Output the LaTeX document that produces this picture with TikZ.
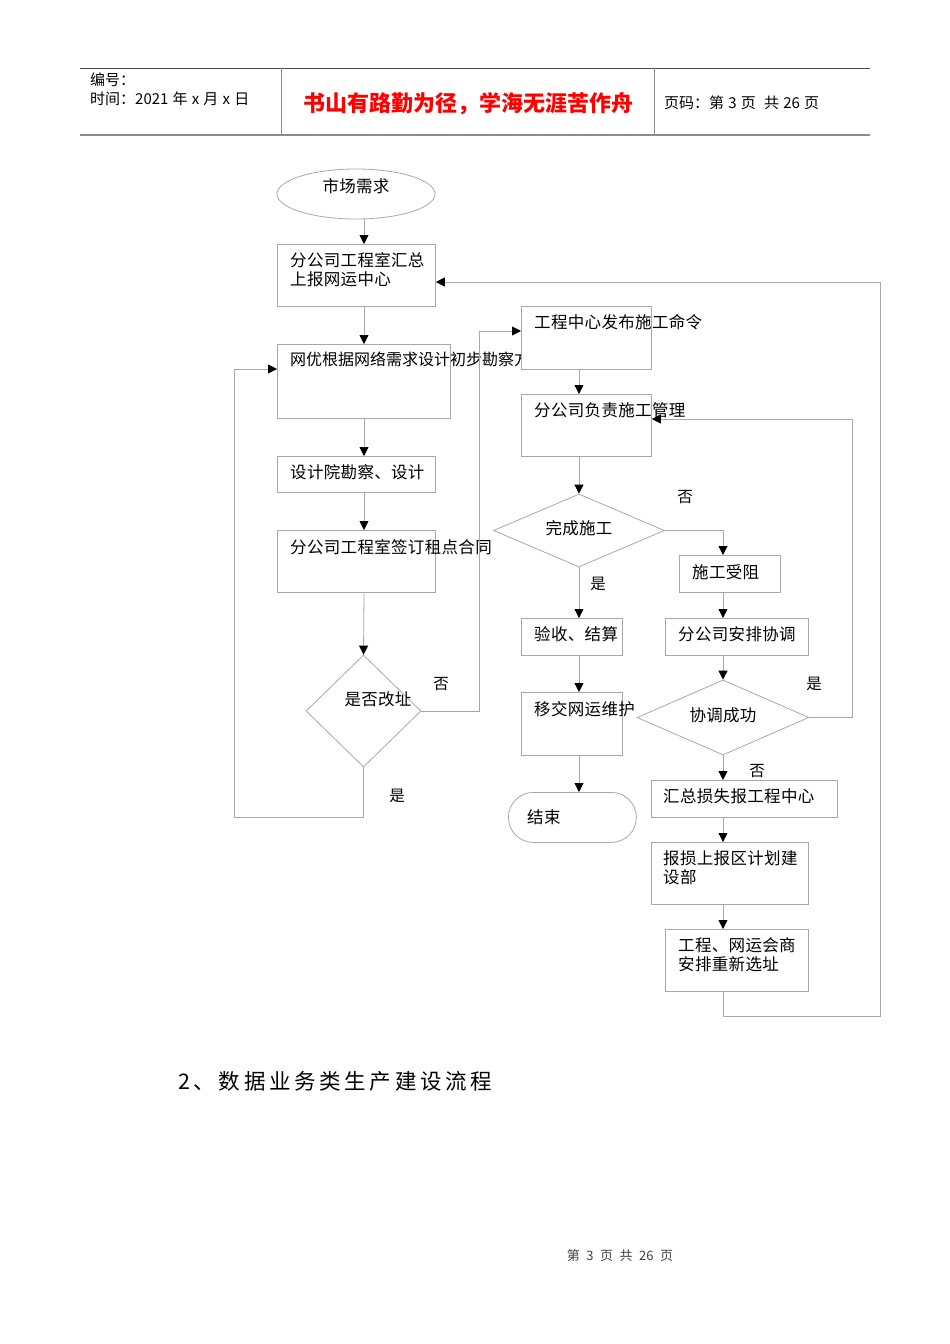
\documentclass[tikz,border=0pt]{standalone}
\usepackage{fontspec}
\setmainfont{Noto Sans CJK SC}
\usetikzlibrary{arrows.meta,shapes.geometric}
\definecolor{linegray}{HTML}{A8A8A8}
\definecolor{headgray}{HTML}{8C8C8C}
\definecolor{mottored}{HTML}{FF0000}
\tikzset{
  stepbox/.style={draw=linegray, line width=0.8pt, fill=white, anchor=north west, inner sep=0pt},
  boxtext/.style={anchor=north west, align=left, inner sep=0pt, xshift=13pt, yshift=-8pt,
    font=\fontsize{16.5}{19}\selectfont\addfontfeatures{LetterSpace=2}},
  decide/.style={diamond, draw=linegray, line width=0.8pt, fill=white, inner sep=0pt},
  decidetext/.style={inner sep=0pt, font=\fontsize{16.5}{19}\selectfont\addfontfeatures{LetterSpace=2}},
  link/.style={draw=linegray, line width=0.8pt, -{Triangle[length=9pt,width=9pt,color=black]}},
  yn/.style={inner sep=0pt, font=\fontsize{15.5}{18}\selectfont},
  headtext/.style={inner sep=0pt, anchor=west, font=\fontsize{15}{18}\selectfont}
}
\begin{document}
\begin{tikzpicture}[x=1pt,y=-1pt]
\useasboundingbox (0,0) rectangle (950,1344);
% page header
\draw[black!70, line width=0.8pt] (80,68) -- (870,68);
\draw[headgray, line width=2pt] (80,135) -- (870,135);
\draw[headgray, line width=0.8pt] (281,68) -- (281,135) (654,68) -- (654,135);
\node[headtext] (num) at (90,80) {编号：};
\node[headtext] (date) at (90,99) {时间：2021\;年\;x\;月\;x\;日};
\node[inner sep=0pt, text=mottored, font=\fontsize{22}{24}\selectfont\bfseries] (motto) at (468,104) {书山有路勤为径，学海无涯苦作舟};
\node[headtext] (pg) at (664,103) {页码：第\;3\;页\;\;共\;26\;页};

% columns for the arrows
\coordinate (colA) at (364,0);
\coordinate (colB) at (579,0);
\coordinate (colC) at (723,0);

% left column
\node[ellipse, draw=linegray, line width=0.8pt, minimum width=158, minimum height=50, inner sep=0pt,
  label={[decidetext, yshift=8pt]center:市场需求}] (mkt) at (356,194) {};
\node[stepbox, minimum width=158, minimum height=62,
  label={[boxtext]north west:{分公司工程室汇总\\上报网运中心}}] (huizong) at (277,244) {};
\node[stepbox, minimum width=173, minimum height=74,
  label={[boxtext, font=\fontsize{16}{19}\selectfont]north west:{网优根据网络需求设计初步勘察方}}] (wangyou) at (277,344) {};
\node[stepbox, minimum width=158, minimum height=36,
  label={[boxtext]north west:{设计院勘察、设计}}] (sjy) at (277,456) {};
\node[stepbox, minimum width=158, minimum height=62,
  label={[boxtext,yshift=-1pt]north west:{分公司工程室签订租点合同}}] (qianding) at (277,530) {};
\node[decide, minimum width=115, minimum height=112,
  label={[decidetext, xshift=14.5pt, yshift=12pt]center:是否改址}] (gaizhi) at (363.5,711) {};

% middle column
\node[stepbox, minimum width=130, minimum height=63,
  label={[boxtext]north west:{工程中心发布施工命令}}] (fabu) at (521,306) {};
\node[stepbox, minimum width=130, minimum height=62,
  label={[boxtext]north west:{分公司负责施工管理}}] (guanli) at (521,394) {};
\node[decide, minimum width=171, minimum height=73,
  label={[decidetext, yshift=2.5pt]center:完成施工}] (wancheng) at (579,530.5) {};
\node[stepbox, minimum width=101, minimum height=37,
  label={[boxtext]north west:{验收、结算}}] (yanshou) at (521,618) {};
\node[stepbox, minimum width=101, minimum height=63,
  label={[boxtext,yshift=-1pt]north west:{移交网运维护}}] (yijiao) at (521,692) {};
\node[rectangle, rounded corners=25pt, draw=linegray, line width=0.8pt, anchor=north west,
  minimum width=128, minimum height=50, inner sep=0pt,
  label={[decidetext, anchor=west, xshift=19pt]west:{结束}}] (jieshu) at (508,792) {};

% right column
\node[stepbox, minimum width=101, minimum height=37,
  label={[boxtext,yshift=-1pt]north west:{施工受阻}}] (shouzu) at (679,555) {};
\node[stepbox, minimum width=143, minimum height=37,
  label={[boxtext]north west:{分公司安排协调}}] (xietiao) at (665,618) {};
\node[decide, minimum width=172, minimum height=75,
  label={[decidetext, yshift=2.5pt]center:协调成功}] (chenggong) at (723,717.5) {};
\node[stepbox, minimum width=186, minimum height=37,
  label={[boxtext,xshift=-1pt]north west:{汇总损失报工程中心}}] (sunshi) at (651,780) {};
\node[stepbox, minimum width=157, minimum height=62,
  label={[boxtext,xshift=-1pt]north west:{报损上报区计划建\\设部}}] (baosun) at (651,842) {};
\node[stepbox, minimum width=143, minimum height=62,
  label={[boxtext]north west:{工程、网运会商\\安排重新选址}}] (xuanzhi) at (665,929) {};

% straight links
\draw[link] (mkt.south -| colA) -- (huizong.north -| colA);
\draw[link] (huizong.south -| colA) -- (wangyou.north -| colA);
\draw[link] (wangyou.south -| colA) -- (sjy.north -| colA);
\draw[link] (sjy.south -| colA) -- (qianding.north -| colA);
\draw[link] (qianding.south -| colA) -- (gaizhi.north);
\draw[link] (fabu.south -| colB) -- (guanli.north -| colB);
\draw[link] (guanli.south -| colB) -- (wancheng.north);
\draw[link] (wancheng.south) -- (yanshou.north -| colB);
\draw[link] (yanshou.south -| colB) -- (yijiao.north -| colB);
\draw[link] (yijiao.south -| colB) -- (jieshu.north -| colB);
\draw[link] (shouzu.south -| colC) -- (xietiao.north -| colC);
\draw[link] (xietiao.south -| colC) -- (chenggong.north);
\draw[link] (chenggong.south) -- (sunshi.north -| colC);
\draw[link] (sunshi.south -| colC) -- (baosun.north -| colC);
\draw[link] (baosun.south -| colC) -- (xuanzhi.north -| colC);

% bent links
\coordinate (noA) at (479,331);
\coordinate (yesA) at (234,817);
\coordinate (yesB) at (234,369);
\coordinate (yesC) at (852,419);
\coordinate (backA) at (880,1016);
\coordinate (backB) at (880,282);
\draw[link] (gaizhi.east) -| (noA) -- (fabu.west |- noA);
\draw[link] (gaizhi.south) |- (yesA) -- (yesB) -- (wangyou.west |- yesB);
\draw[link] (wancheng.east) -| (shouzu.north -| colC);
\draw[link] (chenggong.east) -| (yesC) -- (guanli.east |- yesC);
\draw[link] (xuanzhi.south -| colC) |- (backA) -- (backB) -- (huizong.east |- backB);

% yes / no marks
\node[yn] (n1) at (441,684) {否};
\node[yn] (y1) at (397,796) {是};
\node[yn] (n2) at (685,497) {否};
\node[yn] (y2) at (598,584) {是};
\node[yn] (y3) at (814,684) {是};
\node[yn] (n3) at (757,771) {否};

% section title and footer
\node[inner sep=0pt, anchor=west, font=\fontsize{21.5}{24}\selectfont\addfontfeatures{LetterSpace=17}] (title) at (178,1081) {2、数据业务类生产建设流程};
\node[inner sep=0pt, text=black!75, font=\fontsize{13}{15}\selectfont] (foot) at (620,1256) {第\hspace{0.5em}3\hspace{0.5em}页\hspace{0.5em}共\hspace{0.5em}26\hspace{0.5em}页};
\end{tikzpicture}
\end{document}
